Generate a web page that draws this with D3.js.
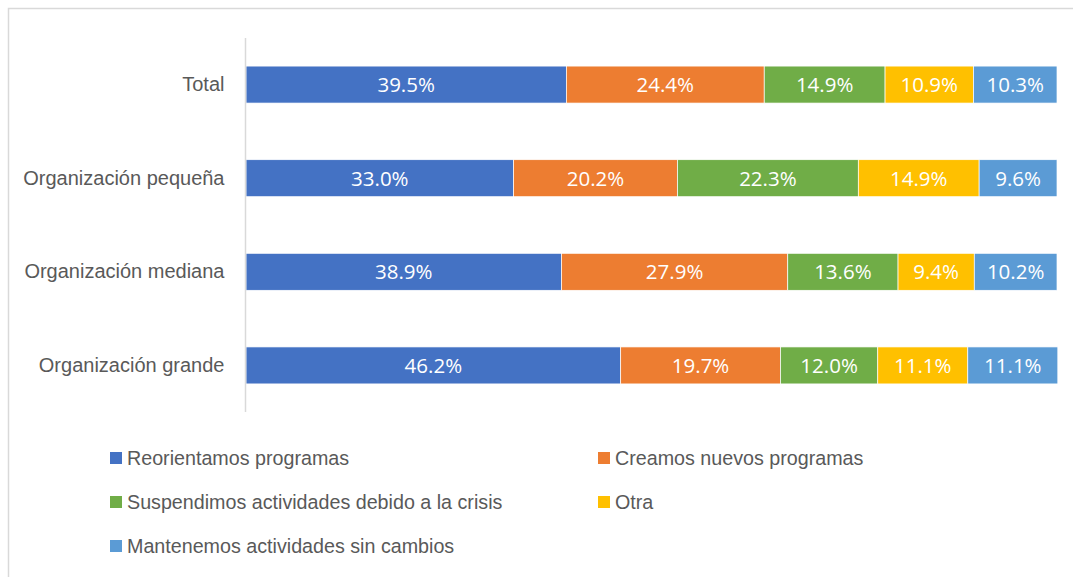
<!DOCTYPE html>
<html>
<head>
<meta charset="utf-8">
<script src="https://cdn.jsdelivr.net/npm/d3@7"></script>
<style>
  body { margin: 0; background: #fff; }
  svg { display: block; }
</style>
</head>
<body>
<div id="chart"></div>
<script>
const categories = ["Total", "Organización pequeña", "Organización mediana", "Organización grande"];
const seriesNames = [
  "Reorientamos programas",
  "Creamos nuevos programas",
  "Suspendimos actividades debido a la crisis",
  "Otra",
  "Mantenemos actividades sin cambios"
];
const reorientamos = [39.5, 33.0, 38.9, 46.2];
const creamos = [24.4, 20.2, 27.9, 19.7];
const suspendimos = [14.9, 22.3, 13.6, 12.0];
const otra = [10.9, 14.9, 9.4, 11.1];
const mantenemos = [10.3, 9.6, 10.2, 11.1];
const colors = ["#4472c4", "#ed7d31", "#70ad47", "#ffc000", "#5b9bd5"];

const seriesValues = [reorientamos, creamos, suspendimos, otra, mantenemos];

const width = 1073, height = 577;

const svg = d3.select("#chart")
  .append("svg")
  .attr("width", width)
  .attr("height", height);

// chart frame (top and left edges visible)
svg.append("path")
  .attr("d", `M8.5,${height} V8.5 H${width}`)
  .attr("fill", "none")
  .attr("stroke", "#d9d9d9")
  .attr("stroke-width", 1.5);

const x = d3.scaleLinear()
  .domain([0, 100])
  .range([246, 1057]);

const y = d3.scaleBand()
  .domain(categories)
  .range([38, 412])
  .paddingInner(0.605)
  .paddingOuter(0.3);

// build rows for stacking
const rows = categories.map((c, i) => {
  const r = { cat: c };
  seriesNames.forEach((s, j) => { r[s] = seriesValues[j][i]; });
  return r;
});

const stacked = d3.stack().keys(seriesNames)(rows);

const groups = svg.selectAll("g.series")
  .data(stacked)
  .enter()
  .append("g")
  .attr("class", "series")
  .attr("fill", (d, i) => colors[i]);

groups.selectAll("rect")
  .data(d => d)
  .enter()
  .append("rect")
  .attr("x", d => x(d[0]))
  .attr("y", d => y(d.data.cat))
  .attr("width", d => x(d[1]) - x(d[0]))
  .attr("height", y.bandwidth())
  .attr("stroke", "#fff")
  .attr("stroke-width", 0.7);

groups.selectAll("text")
  .data(d => d)
  .enter()
  .append("text")
  .attr("x", d => (x(d[0]) + x(d[1])) / 2)
  .attr("y", d => y(d.data.cat) + y.bandwidth() / 2)
  .attr("dy", "0.36em")
  .attr("text-anchor", "middle")
  .attr("fill", "#fff")
  .style("font-family", "'Open Sans', 'Noto Sans', sans-serif")
  .style("font-size", "20.5px")
  .text(d => (d[1] - d[0]).toFixed(1) + "%");

// category axis
const yAxis = svg.append("g")
  .attr("transform", "translate(245.5,0)")
  .call(d3.axisLeft(y).tickSize(0).tickPadding(21));

yAxis.select(".domain")
  .attr("d", "M0,38V412")
  .attr("stroke", "#d9d9d9")
  .attr("stroke-width", 1.5);

yAxis.selectAll("text")
  .attr("fill", "#595959")
  .style("font-family", "'Liberation Sans', Arial, sans-serif")
  .style("font-size", "20px");

// legend
const legendPos = [
  [110, 458], [598, 458],
  [110, 502], [598, 502],
  [110, 546]
];

const legend = svg.selectAll("g.legend")
  .data(seriesNames)
  .enter()
  .append("g")
  .attr("class", "legend")
  .attr("transform", (d, i) => `translate(${legendPos[i][0]},${legendPos[i][1]})`);

legend.append("rect")
  .attr("x", 0)
  .attr("y", -6)
  .attr("width", 12)
  .attr("height", 12)
  .attr("fill", (d, i) => colors[i]);

legend.append("text")
  .attr("x", 17)
  .attr("y", 0)
  .attr("dy", "0.36em")
  .attr("fill", "#595959")
  .style("font-family", "'Liberation Sans', Arial, sans-serif")
  .style("font-size", "19.7px")
  .text(d => d);
</script>
</body>
</html>
